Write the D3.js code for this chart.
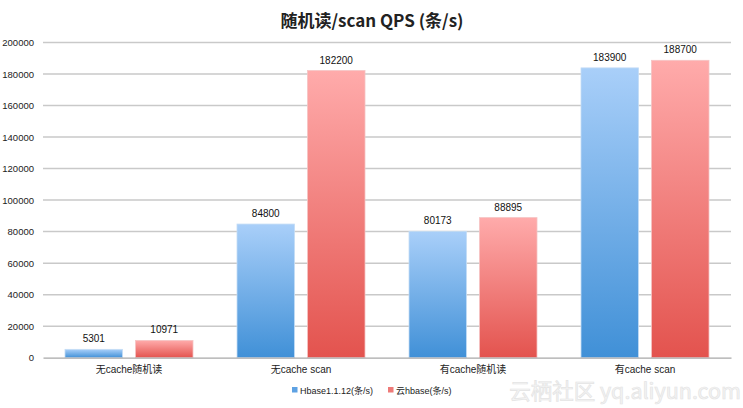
<!DOCTYPE html>
<html><head><meta charset="utf-8">
<script src="https://cdn.jsdelivr.net/npm/d3@7/dist/d3.min.js"></script>
<style>body{margin:0;background:#fff;}svg{display:block;font-family:"Noto Sans CJK SC","Noto Sans",sans-serif;}</style>
</head><body>
<svg id="c" width="743" height="408"></svg>
<script>
const title = "随机读/scan QPS (条/s)";
const categories = ["无cache随机读", "无cache scan", "有cache随机读", "有cache scan"];
const seriesNames = ["Hbase1.1.12(条/s)", "云hbase(条/s)"];
const hbaseValues = [5301, 84800, 80173, 183900];
const cloudValues = [10971, 182200, 88895, 188700];
const yTicks = [0, 20000, 40000, 60000, 80000, 100000, 120000, 140000, 160000, 180000, 200000];

(function () {
const svg = d3.select("#c");
const mLeft = 43, mRight = 731, mTop = 42.5, mBottom = 357.7;
const x0 = d3.scaleBand().domain(categories).range([mLeft, mRight]).padding(0);
const x1 = d3.scaleBand().domain([0, 1]).range([22, x0.bandwidth() - 22]).paddingInner(0.184);
const y = d3.scaleLinear().domain([0, 200000]).range([mBottom, mTop]);

const defs = svg.append("defs");
const grads = [["#a9cff9", "#4090d7"], ["#ffabab", "#e3534e"]];
grads.forEach((g, i) => {
  const lg = defs.append("linearGradient").attr("id", "g" + i).attr("x1", 0).attr("y1", 0).attr("x2", 0).attr("y2", 1);
  lg.append("stop").attr("offset", "0%").attr("stop-color", g[0]);
  lg.append("stop").attr("offset", "100%").attr("stop-color", g[1]);
});

svg.append("text").attr("x", 372).attr("y", 27).attr("text-anchor", "middle")
  .attr("font-size", 17).attr("font-weight", "bold").attr("fill", "#222").text(title);

const yAxis = d3.axisLeft(y).tickValues(yTicks).tickSize(0).tickPadding(9).tickFormat(d3.format("d"));
const gy = svg.append("g").attr("transform", `translate(${mLeft},0)`).call(yAxis);
gy.select(".domain").remove();
gy.selectAll("text").attr("font-size", 9.5).attr("fill", "#222").attr("font-family", "'Liberation Sans',Arial,sans-serif");
svg.append("g").selectAll("line").data(yTicks.filter(d => d > 0)).join("line")
  .attr("x1", mLeft).attr("x2", mRight).attr("y1", d => y(d)).attr("y2", d => y(d))
  .attr("stroke", "#c9c9c9").attr("stroke-width", 1.5);

svg.append("text").attr("x", 741).attr("y", 399).attr("text-anchor", "end")
  .attr("font-size", 21.5).attr("fill", "#f4f4f4").attr("stroke", "#e4e4e4").attr("stroke-width", 0.7)
  .attr("font-family", "'Noto Sans CJK SC',sans-serif").text("云栖社区 yq.aliyun.com");

const data = categories.map((c, i) => ({c, v: [hbaseValues[i], cloudValues[i]]}));
const groups = svg.append("g").selectAll("g").data(data).join("g")
  .attr("transform", d => `translate(${x0(d.c)},0)`);
groups.selectAll("rect").data(d => d.v.map((v, k) => ({v, k}))).join("rect")
  .attr("x", d => x1(d.k)).attr("width", x1.bandwidth())
  .attr("y", d => y(d.v)).attr("height", d => y(0) - y(d.v))
  .attr("fill", d => `url(#g${d.k})`)
  .attr("stroke", d => d.k ? "#f6c4c4" : "#c4dcf5").attr("stroke-width", 0.8);
groups.selectAll("text.v").data(d => d.v.map((v, k) => ({v, k}))).join("text").attr("class", "v")
  .attr("x", d => x1(d.k) + x1.bandwidth() / 2).attr("y", d => y(d.v) - 7)
  .attr("text-anchor", "middle").attr("font-size", 10).attr("fill", "#111")
  .attr("font-family", "'Liberation Sans',Arial,sans-serif").text(d => d.v);

const xAxis = d3.axisBottom(x0).tickSize(0).tickPadding(8);
const gx = svg.append("g").attr("transform", `translate(0,${mBottom})`).call(xAxis);
gx.select(".domain").attr("stroke", "#a8a8a8").attr("stroke-width", 1.2);
gx.selectAll("text").attr("font-size", 10).attr("fill", "#222")
  .attr("font-family", "'Liberation Sans','Noto Sans CJK SC',sans-serif");

const legend = svg.append("g");
const lx = [292, 388];
seriesNames.forEach((s, i) => {
  legend.append("rect").attr("x", lx[i]).attr("y", 387).attr("width", 5.5).attr("height", 5.5)
    .attr("fill", i ? "#ee7a78" : "#5ea2e3");
  legend.append("text").attr("x", lx[i] + 8).attr("y", 394).attr("font-size", 9).attr("fill", "#222")
    .attr("font-family", "'Liberation Sans','Noto Sans CJK SC',sans-serif").text(s);
});
})();
</script>
</body></html>
